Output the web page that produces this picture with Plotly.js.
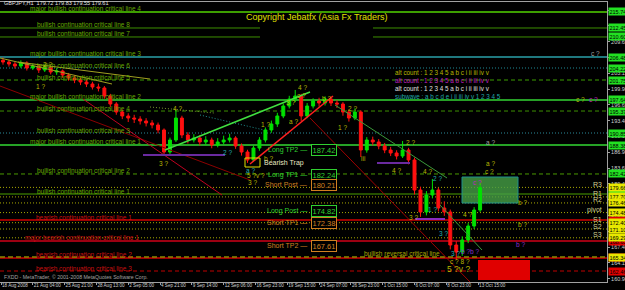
<!DOCTYPE html>
<html><head><meta charset="utf-8">
<script src="https://cdn.plot.ly/plotly-3.0.1.min.js"></script>
<style>html,body{margin:0;padding:0;background:#000;}#chart{width:625px;height:290px;}</style>
</head><body><div id="chart"></div>
<script>
// ---------------- DATA ----------------
const symbolTitle = 'GBPJPY,H1';
const lastBarOHLC = [179.72, 179.83, 179.55, 179.61];

const timeTickIndex = [0,64,128,192,256,320,384,448,512,576,640,704,768,832,896,960];
const timeTickLabels = ['18 Aug 2008','21 Aug 04:00','25 Aug 21:00','28 Aug 13:00','2 Sep 05:00','4 Sep 21:00',
  '9 Sep 14:00','12 Sep 06:00','16 Sep 23:00','19 Sep 15:00','24 Sep 07:00','26 Sep 23:00','1 Oct 15:00',
  '6 Oct 07:00','8 Oct 23:00','13 Oct 15:00'];
const priceTicks = [160.90,164.15,167.40,170.65,173.90,177.15,180.40,183.65,186.90,190.15,193.40,196.65,199.90,203.15,206.40,209.65,212.90,216.15];

const firstOpen = 205.80;
const closes = [205.45,205.04,204.63,205.25,204.22,204.63,203.81,204.43,203.40,203.60,
  202.78,202.16,201.75,201.34,200.93,200.31,200.11,198.46,196.81,195.17,
  194.35,193.93,193.73,193.32,192.91,192.50,191.47,186.94,189.41,193.93,
  190.44,189.41,189.82,189.00,189.41,188.38,189.00,189.41,189.82,188.18,
  186.94,185.30,187.76,189.41,191.47,192.70,194.35,196.40,197.84,198.46,
  194.35,196.40,197.43,197.02,197.84,197.02,196.81,195.17,193.93,195.17,
  187.35,189.41,189.00,188.18,187.35,186.74,186.12,187.35,185.30,179.12,
  174.60,178.10,179.12,175.42,174.60,167.81,166.37,168.84,171.72,175.01,179.61];
const highs = [206.40,205.90,205.50,205.80,205.60,205.10,204.90,204.90,204.70,204.20,
  203.90,203.20,202.70,202.20,201.80,201.40,201.00,200.50,198.90,197.20,
  195.70,194.90,194.60,194.30,193.90,193.50,193.00,191.80,189.90,195.60,
  194.40,191.00,190.60,190.40,190.20,189.90,189.80,190.30,190.70,190.20,
  188.70,187.40,188.30,190.00,192.00,193.40,195.00,196.90,198.50,199.70,
  198.90,197.00,198.00,198.10,198.40,198.30,197.60,197.20,195.70,195.90,
  195.50,190.00,190.10,189.60,188.80,188.00,187.30,189.20,187.80,185.80,
  179.80,178.90,181.40,179.60,176.80,175.10,168.60,169.60,172.30,175.60,180.60];
const lows = [204.90,204.50,204.10,204.20,203.70,203.80,203.20,203.40,202.90,202.80,
  202.20,201.60,201.10,200.70,200.30,199.80,199.40,197.90,196.20,194.60,
  193.70,193.10,192.90,192.60,192.20,191.80,190.80,186.20,186.40,189.00,
  189.80,188.70,188.90,188.30,188.40,187.70,187.90,188.50,188.90,187.60,
  186.20,184.70,184.90,187.20,188.90,190.90,192.10,193.90,195.90,197.20,
  193.30,193.90,195.90,196.30,196.50,196.40,196.00,194.40,193.20,193.50,
  185.90,186.80,188.30,187.50,186.70,186.10,185.40,185.70,184.40,178.20,
  173.60,173.90,177.40,174.70,173.80,166.90,164.70,165.60,168.20,171.10,174.60];

const levelNames = ['major bullish continuation critical line 4','bullish continuation critical line 8',
  'bullish continuation critical line 7','major bullish continuation critical line 3',
  'bullish continuation critical line 6','bullish continuation critical line 5',
  'major bullish continuation critical line 2','bullish continuation critical line 4',
  'bullish continuation critical line 3','major bullish continuation critical line 1',
  'bullish continuation critical line 2','bullish continuation critical line 1',
  'bearish continuation critical line 1','major bearish continuation critical line 1',
  'bearish continuation critical line 2','bearish continuation critical line 3',
  'bearish continuation critical line 4'];
const levelPrices = [215.74,212.45,210.60,206.48,204.22,201.75,197.64,195.37,190.85,188.38,182.42,178.30,
  172.95,168.63,165.14,162.46,160.05];

const reversalName = 'bullish reversal critical line';
const reversalPrice = 165.34;

const pivotNames = ['R3','R1','R2','pivot','S1','S2','S3'];
const pivotPrices = [179.66,177.70,176.46,174.48,172.40,171.10,169.29];

const tradeNames = ['Long TP2','Long TP1','Short Post','Long Post','Short TP1','Short TP2'];
const tradePrices = [187.42,182.24,180.21,174.82,172.38,167.61];

const countNames = ['alt count','alt count','alt count','subwave'];
const countSeqs = ['1 2 3 4 5 a b c i ii iii iv v','1 2 3 4 5 a b c i ii iii iv v',
  '1 2 3 4 5 a b c i ii iii iv v','a b c d e i ii iii iv v 1 2 3 4 5'];

const copyrightText = 'Copyright Jebatfx (Asia Fx Traders)';
const footerText = 'FXDD - MetaTrader, \u00a9 2001-2008 MetaQuotes Software Corp.';

// ---------------- GEOMETRY HELPERS ----------------
const BAR_PX = 0.497, PRICE_PX = 0.2057;
const X = px => (px - 1) / BAR_PX;          // pixel -> bar index
const Y = py => 199.9 + (89 - py) * PRICE_PX; // pixel -> price
const PLOT_W = 607;
const FONT = 'Liberation Sans, Arial, sans-serif';

const opens = closes.map((c, i) => i === 0 ? firstOpen : closes[i - 1]);
const barIndex = closes.map((c, i) => 4 + 12 * i);

// ---------------- SHAPES ----------------
const shapes = [];
function hline(price, color, width, dash, x0 = 0, x1 = 1) {
  shapes.push({type:'line', xref:'paper', x0, x1, yref:'y', y0:price, y1:price,
    line:{color, width, dash}, layer:'below'});
}
function seg(px0, py0, px1, py1, color, width, dash = 'solid', layer = 'above') {
  shapes.push({type:'line', xref:'x', yref:'y', x0:X(px0), y0:Y(py0), x1:X(px1), y1:Y(py1),
    line:{color, width, dash}, layer});
}
function rect(px0, py0, px1, py1, fill, lc, lw, layer = 'below') {
  shapes.push({type:'rect', xref:'x', yref:'y', x0:X(px0), y0:Y(py0), x1:X(px1), y1:Y(py1),
    fillcolor:fill, line:{color:lc, width:lw}, layer});
}

const DASH = '4px,3px', DOT = '1px,2px';
const levelStyle = [
  {c:'#3d9e00', w:2,   d:'solid'},
  {c:'#3d8f00', w:1,   d:'solid', gap:true},
  {c:'#3d8f00', w:1,   d:'solid', gap:true},
  {c:'#2aa0a8', w:1.5, d:'solid'},
  {c:'#1f8a96', w:1.2, d:DOT},
  {c:'#3d9e00', w:1,   d:DASH},
  {c:'#33d433', w:1.5, d:'solid'},
  {c:'#3d8f00', w:1,   d:DASH},
  {c:'#2a8a9a', w:1.2, d:DOT},
  {c:'#33d833', w:1.5, d:'solid'},
  {c:'#4a9a00', w:1,   d:DASH},
  {c:'#4aa000', w:1.2, d:'solid'},
  {c:'#d00000', w:1.5, d:'solid'},
  {c:'#d00018', w:1.5, d:'solid'},
  {c:'#d00000', w:1.5, d:'solid'},
  {c:'#c00000', w:1,   d:DASH},
  {c:'#c00000', w:1,   d:DASH}
];

// zones
rect(462, 177, 518, 203, 'rgba(70,160,70,0.8)', '#1f8f8f', 1);
rect(478, 260, 530, 280, '#e00000', '#e00000', 0);

levelPrices.forEach((p, i) => {
  const s = levelStyle[i];
  if (s.gap) { hline(p, s.c, s.w, s.d, 0, 260 / PLOT_W); hline(p, s.c, s.w, s.d, 373 / PLOT_W, 1); }
  else hline(p, s.c, s.w, s.d);
});
hline(reversalPrice, '#8a8a00', 1.5, '5px,3px');
pivotPrices.forEach(p => hline(p, '#a8a800', 1, DOT));

// trend lines
seg(0, 58, 112, 84, '#a0a020', 1);
seg(18, 62, 150, 79, '#a0a020', 1);
seg(0, 86, 250, 180, '#8b0000', 1);
seg(83, 99, 222, 195, '#c00020', 1);
seg(150, 107, 214, 113, '#7a9a30', 1, DOT);
seg(200, 115, 264, 130, '#209090', 1, DOT);
seg(165, 150, 310, 92, '#40e040', 1.5);
seg(250, 164, 333, 96, '#ff2020', 1.5);
seg(310, 118, 470, 282, '#a00000', 1);
seg(335, 105, 447, 178, '#3a9a3a', 1);
seg(440, 205, 482, 250, '#3a9a3a', 1);
seg(143, 155, 225, 155, '#6a2aa0', 2);
seg(377, 163, 410, 163, '#6a2aa0', 2);
seg(415, 219, 445, 219, '#8a2ac0', 2);
rect(245, 158, 260, 167, 'rgba(0,0,0,0)', '#e0e000', 1, 'above');

// ---------------- ANNOTATIONS ----------------
const ann = [];
function txt(px, py, text, color, size = 6.5, xanchor = 'center', extra = {}) {
  ann.push(Object.assign({xref:'x', yref:'y', x:X(px), y:Y(py), text, showarrow:false,
    xanchor, yanchor:'middle', font:{family:FONT, size, color}}, extra));
}
function ptxt(px, py, text, color, size, xanchor = 'left', extra = {}) {
  ann.push(Object.assign({xref:'paper', yref:'paper', x:px / PLOT_W, y:(282 - py) / 280, text, showarrow:false,
    xanchor, yanchor:'middle', font:{family:FONT, size, color}}, extra));
}

// level labels
levelNames.forEach((n, i) => {
  const bear = n.indexOf('bearish') >= 0, major = n.indexOf('major') === 0;
  const left = bear ? (major ? 23 : 34) : (major ? 28 : 35);
  ann.push({xref:'paper', yref:'y', x:left / PLOT_W, y:levelPrices[i], yshift:3, text:n, showarrow:false,
    xanchor:'left', yanchor:'middle', font:{family:FONT, size:6.5, color: bear ? '#cc1010' : '#66aa00'}});
});
ann.push({xref:'paper', yref:'y', x:362 / PLOT_W, y:reversalPrice, yshift:4, text:reversalName, showarrow:false,
  xanchor:'left', yanchor:'middle', font:{family:FONT, size:6.5, color:'#a8a800'}});

// pivot labels
pivotNames.forEach((n, i) => {
  ann.push({xref:'paper', yref:'y', x:604 / PLOT_W, y:pivotPrices[i], yshift:3, text:n, showarrow:false,
    xanchor:'right', yanchor:'middle', font:{family:FONT, size:7, color:'#d0d090'}});
});

// trade labels
tradeNames.forEach((n, i) => {
  const long = n.indexOf('Long') === 0;
  const col = long ? '#30d030' : '#d08020';
  ann.push({xref:'paper', yref:'y', x:309 / PLOT_W, y:tradePrices[i], text:n + ' \u2014', showarrow:false,
    xanchor:'right', yanchor:'middle', font:{family:FONT, size:7, color:col}});
  ann.push({xref:'paper', yref:'y', x:311 / PLOT_W, y:tradePrices[i], text:tradePrices[i].toFixed(2), showarrow:false,
    xanchor:'left', yanchor:'middle', bordercolor:col, borderwidth:1, borderpad:0.5, bgcolor:'#000',
    font:{family:FONT, size:7.5, color:col}});
});

// right-axis highlighted price boxes
function box(price, bg) {
  ann.push({xref:'paper', yref:'y', x:1, xshift:1, y:price, text:price.toFixed(2), showarrow:false,
    xanchor:'left', yanchor:'middle', bgcolor:bg, borderpad:0.5, font:{family:FONT, size:5.5, color:'#000'}});
}
levelPrices.forEach((p, i) => { if (p > 160.3) box(p, levelNames[i].indexOf('bearish') >= 0 ? '#e00000' : '#22e022'); });
box(reversalPrice, '#e8e800');
pivotPrices.forEach(p => box(p, '#e8e800'));

// counts legend
const countColors = ['#b8b800', '#c020c0', '#e0e0e0', '#20a8a8'];
countNames.forEach((n, i) => ptxt(393, 72 + 8 * i, n + ' : ' + countSeqs[i], countColors[i], 6.3));

// copyright / header / footer
ptxt(317, 17, copyrightText, '#e0e000', 9, 'center');
ptxt(2, 3.5, symbolTitle + '  ' + lastBarOHLC.map(v => v.toFixed(2)).join(' '), '#e0e0e0', 5.5);
ptxt(2, 277, footerText, '#a0a0a0', 5.2);

// wave labels
const OL = '#b8b800', TE = '#20b0b0', MA = '#c020c0', PU = '#8a30d0';
[
  [47,64,'2 ?',OL],[40,86,'1 ?',OL],[177,108,'4 ?',OL],[163,163,'3 ?',OL],[227,152,'2 ?',TE],
  [265,124,'1 ?',OL],[290,102,'3 ?',OL],[302,87,'4 ?',OL],[301,95,'c ?',OL],[293,121,'a ?',OL],
  [326,98,'b ?',OL],[268,158,'b ?',OL],[250,170,'a ?',TE],[256,175,'5 ?v ?',OL],[252,182,'3 ?',OL],
  [342,127,'1 ?',OL],[352,108,'2 ?',OL],[363,158,'iii',OL],[410,142,'2 ?',OL],[396,170,'4 ?',OL],
  [490,142,'a ?','#a0a0a0'],[490,163,'a ?',OL],[489,171,'c ?',OL],[427,171,'4 ?',OL],[437,178,'2 ?',TE],
  [477,182,'c ?',MA],[580,99,'c ?',OL],[593,99,'c ?',MA],[595,53,'c ?','#a0a0a0'],
  [522,202,'b ?',OL],[522,224,'b ?',OL],[520,244,'b ?',PU],[432,209,'1 ?',TE],[443,233,'3 ?',TE],
  [467,214,'4 ?',OL],[413,217,'3 ?',OL],[470,251,'b ?b ?',PU],[460,261,'c ? 8 ?',OL],[455,253,'3 ?',TE]
].forEach(a => txt(a[0], a[1], a[2], a[3]));
txt(458, 269, '5 ?v ?', OL, 8.5);
txt(262, 163, 'Bearish Trap', '#e8e8c0', 7, 'left');

// ---------------- PLOT ----------------
const trace = {
  type:'candlestick', x:barIndex, open:opens, high:highs, low:lows, close:closes,
  increasing:{line:{color:'#00e000', width:1}, fillcolor:'#00e000'},
  decreasing:{line:{color:'#ff1010', width:1}, fillcolor:'#ff1010'},
  whiskerwidth:0, hoverinfo:'skip', showlegend:false
};

const layout = {
  width:625, height:290,
  margin:{l:0, r:18, t:2, b:8, pad:0},
  paper_bgcolor:'#000', plot_bgcolor:'#000',
  showlegend:false,
  xaxis:{type:'linear', range:[X(0), X(PLOT_W)], rangeslider:{visible:false},
    tickmode:'array', tickvals:timeTickIndex, ticktext:timeTickLabels,
    ticks:'outside', ticklen:2, tickcolor:'#a0a0a0', ticklabelposition:'outside right',
    tickangle:0, ticklabelstandoff:-2, automargin:false,
    tickfont:{family:FONT, size:4.6, color:'#d0d0d0'},
    showgrid:false, zeroline:false, showline:true, linecolor:'#a0a0a0', linewidth:1, mirror:true},
  yaxis:{side:'right', range:[Y(282), Y(2)], automargin:false,
    tickmode:'array', tickvals:priceTicks, ticktext:priceTicks.map(v => v.toFixed(2)),
    ticks:'outside', ticklen:2, tickcolor:'#a0a0a0',
    tickfont:{family:FONT, size:5.5, color:'#d0d0d0'},
    showgrid:false, zeroline:false, showline:true, linecolor:'#a0a0a0', linewidth:1},
  shapes, annotations:ann
};

Plotly.newPlot('chart', [trace], layout, {staticPlot:true, displayModeBar:false});
</script></body></html>
